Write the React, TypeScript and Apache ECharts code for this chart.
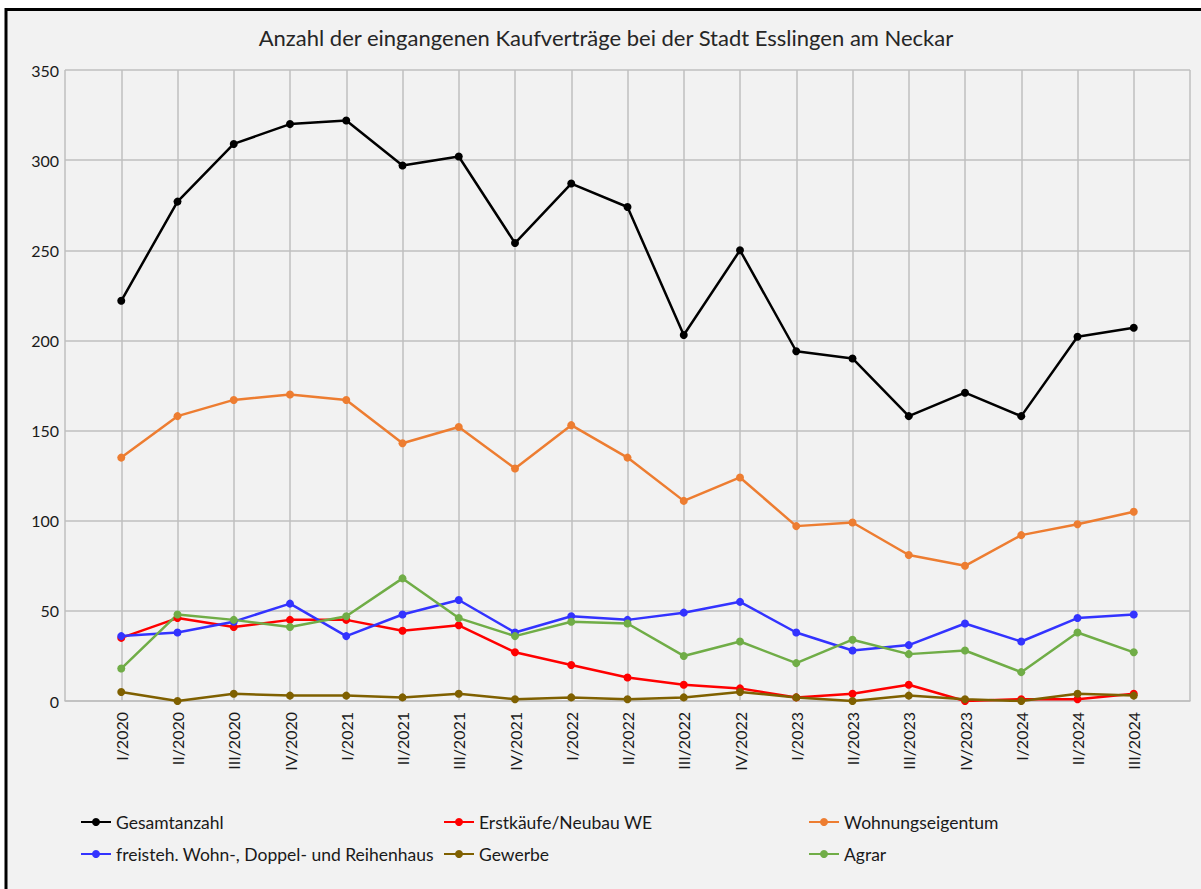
import React, { useEffect, useRef } from "react";
import * as echarts from "echarts";

const categories = [
  "I/2020", "II/2020", "III/2020", "IV/2020",
  "I/2021", "II/2021", "III/2021", "IV/2021",
  "I/2022", "II/2022", "III/2022", "IV/2022",
  "I/2023", "II/2023", "III/2023", "IV/2023",
  "I/2024", "II/2024", "III/2024",
];

const gesamtanzahl = [222, 277, 309, 320, 322, 297, 302, 254, 287, 274, 203, 250, 194, 190, 158, 171, 158, 202, 207];
const erstkaeufe = [35, 46, 41, 45, 45, 39, 42, 27, 20, 13, 9, 7, 2, 4, 9, 0, 1, 1, 4];
const wohnungseigentum = [135, 158, 167, 170, 167, 143, 152, 129, 153, 135, 111, 124, 97, 99, 81, 75, 92, 98, 105];
const freistehend = [36, 38, 44, 54, 36, 48, 56, 38, 47, 45, 49, 55, 38, 28, 31, 43, 33, 46, 48];
const gewerbe = [5, 0, 4, 3, 3, 2, 4, 1, 2, 1, 2, 5, 2, 0, 3, 1, 0, 4, 3];
const agrar = [18, 48, 45, 41, 47, 68, 46, 36, 44, 43, 25, 33, 21, 34, 26, 28, 16, 38, 27];

const seriesNames = [
  "Gesamtanzahl",
  "Erstkäufe/Neubau WE",
  "Wohnungseigentum",
  "freisteh. Wohn-, Doppel- und Reihenhaus",
  "Gewerbe",
  "Agrar",
];
const seriesColors = ["#000000", "#ff0000", "#ed7d31", "#3333ff", "#7f6000", "#70ad47"];
const seriesValues = [gesamtanzahl, erstkaeufe, wohnungseigentum, freistehend, gewerbe, agrar];

const yTicks = { min: 0, max: 350, interval: 50 };

const FONT = "Lato, 'Noto Sans', sans-serif";

export default function App() {
  const ref = useRef<HTMLDivElement>(null);

  useEffect(() => {
    if (!ref.current) return;
    const chart = echarts.init(ref.current, undefined, { renderer: "svg" });

    const xData = ["", ...categories, ""];
    const legendPos = [
      { left: 80, top: 813 },
      { left: 443, top: 813 },
      { left: 808, top: 813 },
      { left: 80, top: 845 },
      { left: 443, top: 845 },
      { left: 808, top: 845 },
    ];

    chart.setOption({
      animation: false,
      backgroundColor: "#ffffff",
      textStyle: { fontFamily: FONT },
      graphic: [
        {
          type: "rect",
          z: -10,
          shape: { x: 6, y: 9.5, width: 1200, height: 890 },
          style: { fill: "#f2f2f2", stroke: "#000000", lineWidth: 3 },
          silent: true,
        },
        {
          type: "text",
          style: {
            text: "Anzahl der eingangenen Kaufverträge bei der Stadt Esslingen am Neckar",
            x: 606,
            y: 37,
            textAlign: "center",
            textVerticalAlign: "middle",
            fill: "#262626",
            font: `22px ${FONT}`,
          },
        },
      ],
      grid: { left: 65, right: 11, top: 70, bottom: 188, containLabel: false },
      legend: seriesNames.map((name, i) => ({
        data: [name],
        left: legendPos[i].left,
        top: legendPos[i].top,
        padding: 0,
        itemWidth: 30,
        itemHeight: 10,
        itemGap: 5,
        textStyle: { fontSize: 17.5, color: "#1a1a1a", fontFamily: FONT },
      })),
      xAxis: {
        type: "category",
        data: xData,
        boundaryGap: false,
        axisLine: { show: true, lineStyle: { color: "#bfbfbf", width: 1.5 } },
        axisTick: { show: false },
        axisLabel: {
          interval: 0,
          rotate: 90,
          margin: 11,
          fontSize: 16,
          color: "#1a1a1a",
          fontFamily: FONT,
        },
        splitLine: { show: true, lineStyle: { color: "#bfbfbf", width: 1.5 } },
      },
      yAxis: {
        type: "value",
        min: yTicks.min,
        max: yTicks.max,
        interval: yTicks.interval,
        axisLine: { show: false },
        axisTick: { show: false },
        axisLabel: { fontSize: 16, color: "#1a1a1a", margin: 6, fontFamily: FONT },
        splitLine: { show: true, lineStyle: { color: "#bfbfbf", width: 1.5 } },
      },
      series: seriesNames.map((name, i) => ({
        name,
        type: "line",
        data: ["-", ...seriesValues[i], "-"],
        symbol: "circle",
        symbolSize: 8,
        lineStyle: { color: seriesColors[i], width: 2.5 },
        itemStyle: { color: seriesColors[i] },
      })),
    });

    return () => chart.dispose();
  }, []);

  return (
    <div
      ref={ref}
      style={{ position: "absolute", left: 0, top: 0, width: 1201, height: 889 }}
    />
  );
}
